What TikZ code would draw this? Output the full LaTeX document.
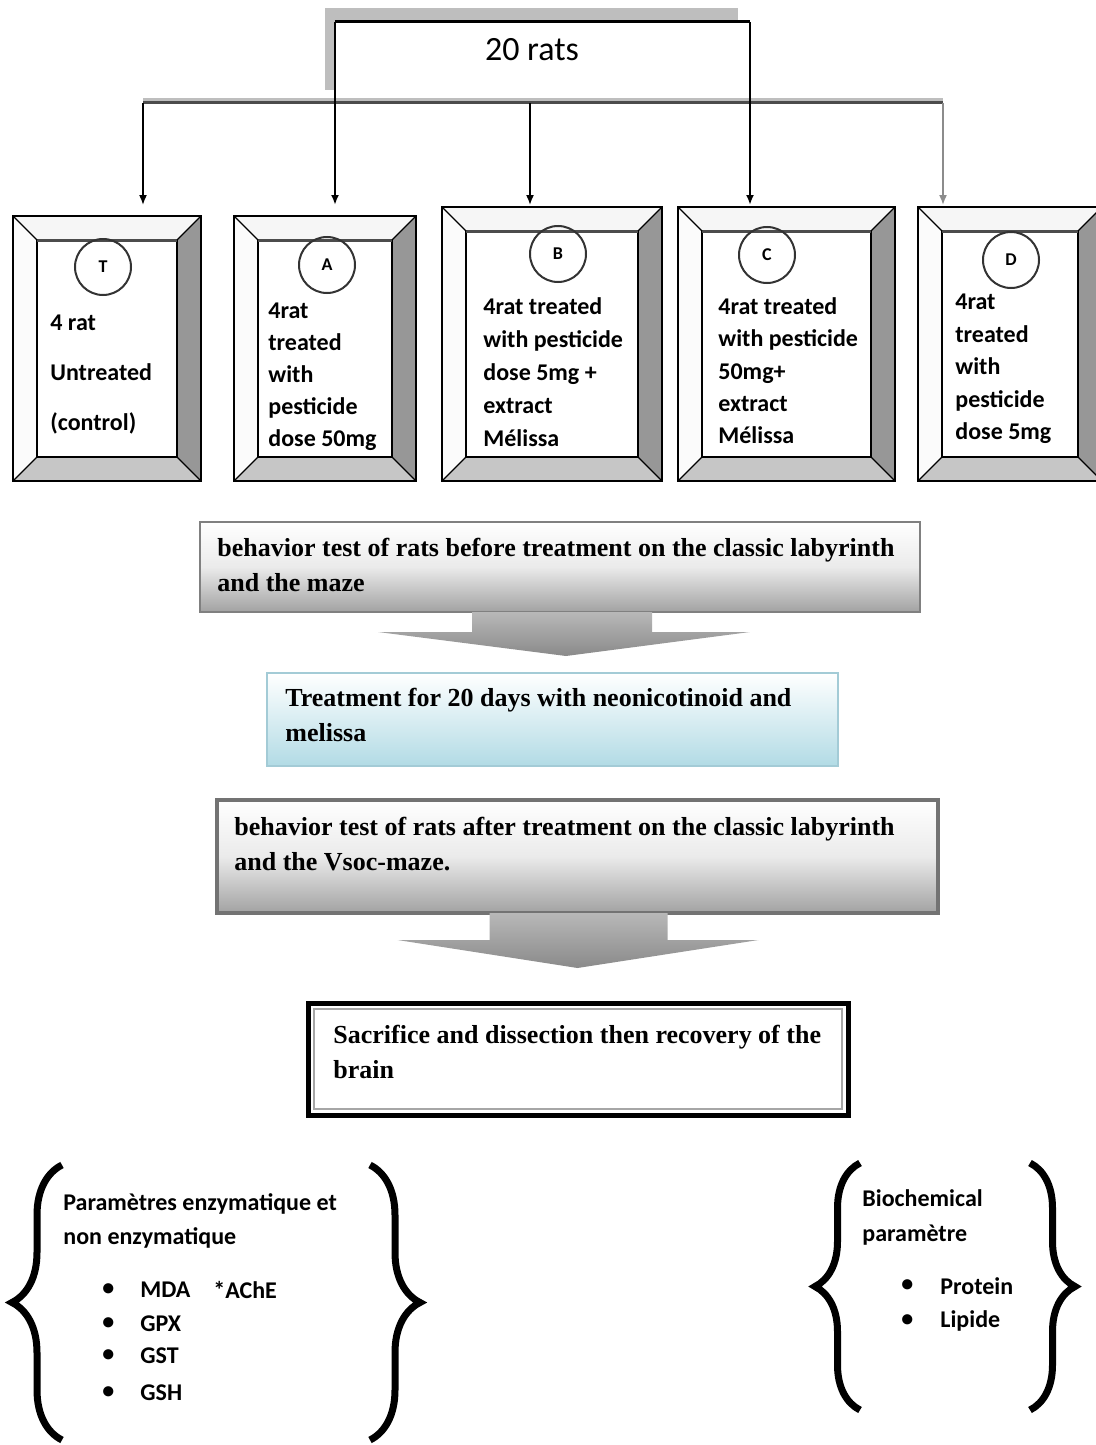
\documentclass[tikz,border=0pt]{standalone}
\usepackage{fontspec}
\setmainfont{Liberation Serif}
\newfontfamily\calfont{Carlito}
\usetikzlibrary{arrows.meta,positioning,calc,fit,decorations.pathreplacing}
\definecolor{shadowgray}{HTML}{BEBEBE}
\definecolor{bevtop}{HTML}{F6F6F6}
\definecolor{bevleft}{HTML}{FBFBFB}
\definecolor{bevright}{HTML}{979797}
\definecolor{bevbot}{HTML}{C6C6C6}
\definecolor{boxline}{HTML}{808080}
\definecolor{boxgray}{HTML}{A2A2A2}
\definecolor{bluebot}{HTML}{B2DBE5}
\definecolor{blueline}{HTML}{A3CBD6}
\definecolor{arrowtop}{HTML}{B8B8B8}
\definecolor{arrowbot}{HTML}{8A8A8A}
\tikzset{
  grp/.style={inner sep=0pt, outer sep=0pt},
  badge/.style={circle, draw=black!80, line width=1pt, minimum size=28pt, inner sep=0pt,
    font=\calfont\bfseries\fontsize{9}{9}\selectfont},
  grptext/.style={anchor=north west, inner sep=0pt, align=left,
    font=\calfont\bfseries\fontsize{12}{#1}\selectfont},
  steptext/.style={anchor=north west, inner sep=0pt, align=left,
    font=\bfseries\fontsize{13}{17.5}\selectfont},
  graystep/.style={draw=boxline, line width=1.2pt, top color=white, bottom color=boxgray, middle color=black!8},
  bluestep/.style={draw=blueline, line width=1pt, top color=white, bottom color=bluebot},
  arr/.style={-{Latex[length=5pt,width=4pt]}, line width=0.8pt},
  brc/.style={decorate, decoration={brace, amplitude=#1}, line width=3.5pt},
  bul/.style={anchor=west, inner sep=0pt, font=\calfont\bfseries\fontsize{12}{14}\selectfont}
}
% bevelled frame round a group node
\newcommand{\bevelframe}[1]{%
  \path (#1.north west) coordinate (#1-a) ++(12pt,-12pt) coordinate (#1-ia);
  \path (#1.north east) coordinate (#1-b) ++(-12pt,-12pt) coordinate (#1-ib);
  \path (#1.south east) coordinate (#1-c) ++(-12pt,12pt) coordinate (#1-ic);
  \path (#1.south west) coordinate (#1-d) ++(12pt,12pt) coordinate (#1-id);
  \fill[bevtop] (#1-a) -- (#1-b) -- (#1-ib) -- (#1-ia) -- cycle;
  \fill[bevright] (#1-b) -- (#1-c) -- (#1-ic) -- (#1-ib) -- cycle;
  \fill[bevbot] (#1-c) -- (#1-d) -- (#1-id) -- (#1-ic) -- cycle;
  \fill[bevleft] (#1-d) -- (#1-a) -- (#1-ia) -- (#1-id) -- cycle;
  \draw[line width=1.2pt] (#1-a) rectangle (#1-c);
  \draw[line width=1pt] (#1-ia) rectangle (#1-ic);
  \draw[black!70, line width=1.5pt] (#1-ia) -- (#1-ib);
  \draw[line width=0.6pt] (#1-a) -- (#1-ia) (#1-b) -- (#1-ib) (#1-c) -- (#1-ic) (#1-d) -- (#1-id);
}
\begin{document}
\begin{tikzpicture}[x=0.5pt,y=-0.5pt]
  \useasboundingbox (0,0) rectangle (1096,1445);
  \clip (0,0) rectangle (1096,1445);

  % title and split lines
  \fill[shadowgray] (325,8) rectangle (738,22);
  \fill[shadowgray] (325,8) rectangle (335,90);
  \node[font=\calfont\fontsize{17}{17}\selectfont] (rats) at (532,50) {20 rats};
  \coordinate (jL) at (335,22);
  \coordinate (jR) at (750,22);
  \coordinate (bL) at (143,103);
  \coordinate (bM) at (530,103);
  \coordinate (bR) at (943,103);
  \foreach \n/\x in {T/143,A/335,B/530,C/750,D/943}
    \coordinate (e\n) at (\x,205);

  \draw[shadowgray, line width=1.5pt] ([yshift=1.5pt]bL) -- ([yshift=1.5pt]bR);
  \draw[black!70, line width=1.5pt] (bL) -- (bR);
  \draw[line width=1.5pt] (jL) -- (jR);
  \draw[arr, line width=1.2pt] (jL) -- (eA);
  \draw[arr, line width=1.2pt] (jR) -- (eC);
  \draw[arr] (bL) -- (eT);
  \draw[arr] (bM) -- (eB);
  \draw[arr, draw=black!45] (bR) -- (eD);

  % groups
  \node[grp, fit={(13,216) (201,481)}] (T) {};
  \node[grp, fit={(234,216) (416,481)}] (A) {};
  \node[grp, fit={(442,207) (662,481)}] (B) {};
  \node[grp, fit={(678,207) (895,481)}] (C) {};
  \node[grp, fit={(918,207) (1102,481)}] (D) {};
  \foreach \g in {T,A,B,C,D}
    \bevelframe{\g};

  \node[badge] (Tb) at (103,267) {T};
  \node[badge] (Ab) at (327,265) {A};
  \node[badge] (Bb) at (558,254) {B};
  \node[badge] (Cb) at (767,255) {C};
  \node[badge] (Db) at (1011,260) {D};

  \node[grptext=25pt] (Tt) at (50,315) {4 rat\\Untreated\\(control)};
  \node[grptext=16pt] (At) at (268,303) {4rat\\treated\\with\\pesticide\\dose 50mg};
  \node[grptext=16.5pt] (Bt) at (483,297) {4rat treated\\with pesticide\\dose 5mg +\\extract\\Mélissa};
  \node[grptext=16.2pt] (Ct) at (718,297) {4rat treated\\with pesticide\\50mg+\\extract\\Mélissa};
  \node[grptext=16.25pt] (Dt) at (955,294) {4rat\\treated\\with\\pesticide\\dose 5mg};

  % steps
  \node[grp, graystep, fit={(200,522) (920,612)}] (pre) {};
  \node[steptext] (pretext) at ([shift={(8.5pt,-8pt)}]pre.north west)
    {behavior test of rats before treatment on the classic labyrinth\\and the maze};
  \shade[top color=arrowtop, bottom color=arrowbot]
    ($(pre.south)+(-88,0)$) -- ($(pre.south)+(92,0)$) -- ($(pre.south)+(92,20)$)
    -- ($(pre.south)+(190,20)$) -- ($(pre.south)+(6,44)$) -- ($(pre.south)+(-182,20)$)
    -- ($(pre.south)+(-88,20)$) -- cycle;

  \node[grp, bluestep, fit={(267,673) (838,766)}] (treat) {};
  \node[steptext] (treattext) at ([shift={(9pt,-7.5pt)}]treat.north west)
    {Treatment for 20 days with neonicotinoid and\\melissa};

  \node[grp, graystep, draw=black!55, line width=1.8pt, fit={(217,800) (938,913)}] (post) {};
  \node[steptext] (posttext) at ([shift={(8.5pt,-8.5pt)}]post.north west)
    {behavior test of rats after treatment on the classic labyrinth\\and the Vsoc-maze.};
  \shade[top color=arrowtop, bottom color=arrowbot]
    ($(post.south)+(-88,0)$) -- ($(post.south)+(90,0)$) -- ($(post.south)+(90,27)$)
    -- ($(post.south)+(181,27)$) -- ($(post.south)+(0,55)$) -- ($(post.south)+(-180,27)$)
    -- ($(post.south)+(-88,27)$) -- cycle;

  \node[grp, draw=black, line width=2.5pt, fill=white, fit={(308,1003) (848,1115)}] (brain) {};
  \draw[black!35, line width=1pt] ([shift={(3pt,-3pt)}]brain.north west) rectangle ([shift={(-3pt,3pt)}]brain.south east);
  \node[steptext] (braintext) at ([shift={(12.5pt,-11pt)}]brain.north west)
    {Sacrifice and dissection then recovery of the\\brain};

  % parameters
  \node[grp, fit={(62,1165) (370,1440)}] (enz) {};
  \draw[brc=25pt] (enz.south west) -- (enz.north west);
  \draw[brc=25pt] (enz.north east) -- (enz.south east);
  \node[grptext=17pt] (enzhead) at (63,1193) {Paramètres enzymatique et\\non enzymatique};
  \foreach \y/\t [count=\i] in {1290/MDA,1324/GPX,1356/GST,1393/GSH} {
    \node[bul] (eb\i) at (102,\y) {•};
    \node[bul] (ei\i) at (140,\y) {\t};
  }
  \node[bul] (ache) at (213,1290) {*AChE};

  \node[grp, fit={(860,1163) (1030,1410)}] (bio) {};
  \draw[brc=22.5pt] (bio.south west) -- (bio.north west);
  \draw[brc=22.5pt] (bio.north east) -- (bio.south east);
  \node[grptext=17.5pt] (biohead) at (862,1189) {Biochemical\\paramètre};
  \node[bul] (bb1) at (901,1286) {•};
  \node[bul] (bi1) at (940,1286) {Protein};
  \node[bul] (bb2) at (901,1321) {•};
  \node[bul] (bi2) at (940,1321) {Lipide};
\end{tikzpicture}
\end{document}
